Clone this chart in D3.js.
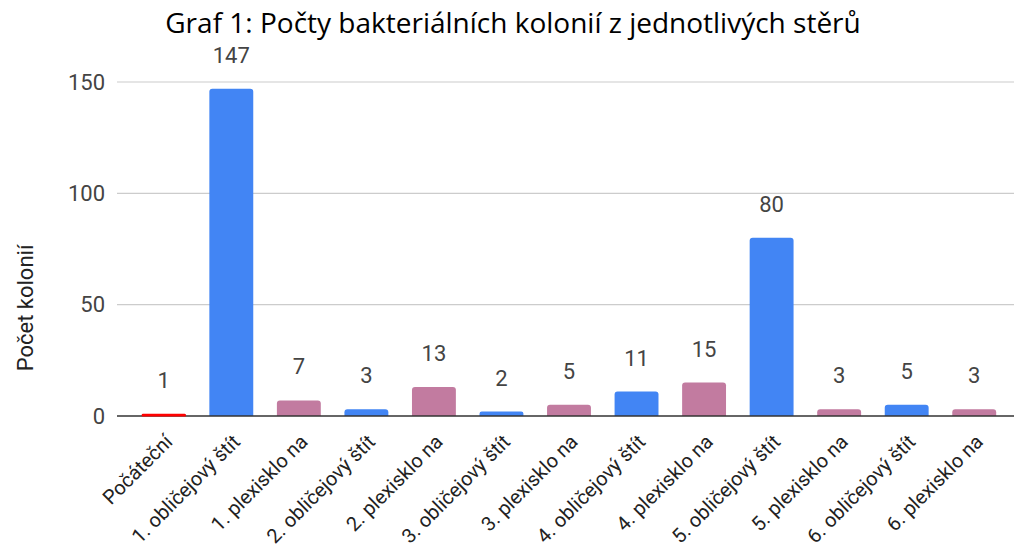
<!DOCTYPE html>
<html lang="cs">
  <head>
    <meta charset="utf-8">
    <title>Graf 1</title>
    <script type="text/javascript" src="https://cdn.jsdelivr.net/npm/d3@7"></script>
    <style>
      body { margin: 0; background: #fff; }
      #chart text { font-family: Roboto, "Liberation Sans", sans-serif; }
      #chart .title { font-family: "Open Sans", "Noto Sans", sans-serif; }
    </style>
  </head>
  <body>
    <div id="chart"></div>
    <script type="text/javascript">

      // data
      var categories = [
        'Počáteční', '1. obličejový štít', '1. plexisklo na',
        '2. obličejový štít', '2. plexisklo na', '3. obličejový štít',
        '3. plexisklo na', '4. obličejový štít', '4. plexisklo na',
        '5. obličejový štít', '5. plexisklo na', '6. obličejový štít',
        '6. plexisklo na'
      ];
      var counts = [1, 147, 7, 3, 13, 2, 5, 11, 15, 80, 3, 5, 3];
      var kinds = ['start', 'stit', 'plexi', 'stit', 'plexi', 'stit', 'plexi',
                   'stit', 'plexi', 'stit', 'plexi', 'stit', 'plexi'];
      var yTicks = [0, 50, 100, 150];

      var w = 1014, h = 549;
      var plot = { left: 117, right: 1014, top: 82, bottom: 416 };

      var colour = d3.scaleOrdinal()
        .domain(['start', 'stit', 'plexi'])
        .range(['#ff0000', '#4285f4', '#c27ba0']);

      var svg = d3.select('#chart')
        .append('svg')
          .attr('width', w)
          .attr('height', h);

      var xScale = d3.scaleBand()
        .domain(d3.range(categories.length))
        .range([130, 1008])
        .paddingInner(0.35)
        .paddingOuter(0.175);

      var yScale = d3.scaleLinear()
        .domain([0, 150])
        .range([plot.bottom, plot.top]);

      // gridlines
      svg.append('g')
        .selectAll('line')
        .data(yTicks.filter(function(d) { return d > 0; }))
        .enter()
        .append('line')
          .attr('x1', plot.left)
          .attr('x2', plot.right)
          .attr('y1', function(d) { return yScale(d); })
          .attr('y2', function(d) { return yScale(d); })
          .attr('stroke', '#cccccc')
          .attr('stroke-width', 1.2);

      // y axis labels
      var yAxis = d3.axisLeft(yScale)
        .tickValues(yTicks)
        .tickSize(0)
        .tickPadding(12);

      svg.append('g')
        .attr('transform', 'translate(' + plot.left + ',0)')
        .call(yAxis)
        .call(function(g) { g.select('.domain').remove(); })
        .selectAll('text')
          .attr('font-size', 22)
          .attr('fill', '#444444');

      // bars
      svg.append('g')
        .selectAll('path')
        .data(counts)
        .enter()
        .append('path')
          .attr('fill', function(d, i) { return colour(kinds[i]); })
          .attr('d', function(d, i) {
            var x0 = xScale(i), bw = xScale.bandwidth();
            var y0 = yScale(d), y1 = yScale(0);
            var r = Math.min(3, (y1 - y0) / 2);
            return 'M' + x0 + ',' + y1 +
              'V' + (y0 + r) +
              'Q' + x0 + ',' + y0 + ' ' + (x0 + r) + ',' + y0 +
              'H' + (x0 + bw - r) +
              'Q' + (x0 + bw) + ',' + y0 + ' ' + (x0 + bw) + ',' + (y0 + r) +
              'V' + y1 + 'Z';
          });

      // baseline
      svg.append('line')
        .attr('x1', plot.left)
        .attr('x2', plot.right)
        .attr('y1', yScale(0))
        .attr('y2', yScale(0))
        .attr('stroke', '#333333')
        .attr('stroke-width', 1.3);

      // redraw the thin starting bar over the baseline
      svg.append('rect')
        .attr('x', xScale(0))
        .attr('width', xScale.bandwidth())
        .attr('y', yScale(counts[0]) + 0.5)
        .attr('height', yScale(0) - yScale(counts[0]))
        .attr('fill', colour('start'));

      // value labels
      svg.append('g')
        .selectAll('text')
        .data(counts)
        .enter()
        .append('text')
          .attr('x', function(d, i) { return xScale(i) + xScale.bandwidth() / 2; })
          .attr('y', function(d) { return yScale(d) - 26; })
          .attr('text-anchor', 'middle')
          .attr('font-size', 22)
          .attr('fill', '#444444')
          .text(function(d) { return d; });

      // x axis labels, rotated
      svg.append('g')
        .selectAll('text')
        .data(categories)
        .enter()
        .append('text')
          .attr('transform', function(d, i) {
            var cx = xScale(i) + xScale.bandwidth() / 2 + 10;
            return 'translate(' + cx + ',' + (plot.bottom + 27) + ') rotate(-45)';
          })
          .attr('text-anchor', 'end')
          .attr('font-size', 20)
          .attr('fill', '#222222')
          .text(function(d) { return d; });

      // y axis title
      svg.append('text')
        .attr('transform', 'translate(33,308) rotate(-90)')
        .attr('text-anchor', 'middle')
        .attr('font-size', 22)
        .attr('fill', '#222222')
        .text('Počet kolonií');

      // chart title
      svg.append('text')
        .attr('class', 'title')
        .attr('x', 513)
        .attr('y', 33)
        .attr('text-anchor', 'middle')
        .attr('font-size', 28)
        .attr('fill', '#000000')
        .text('Graf 1: Počty bakteriálních kolonií z jednotlivých stěrů');

    </script>
  </body>
</html>
